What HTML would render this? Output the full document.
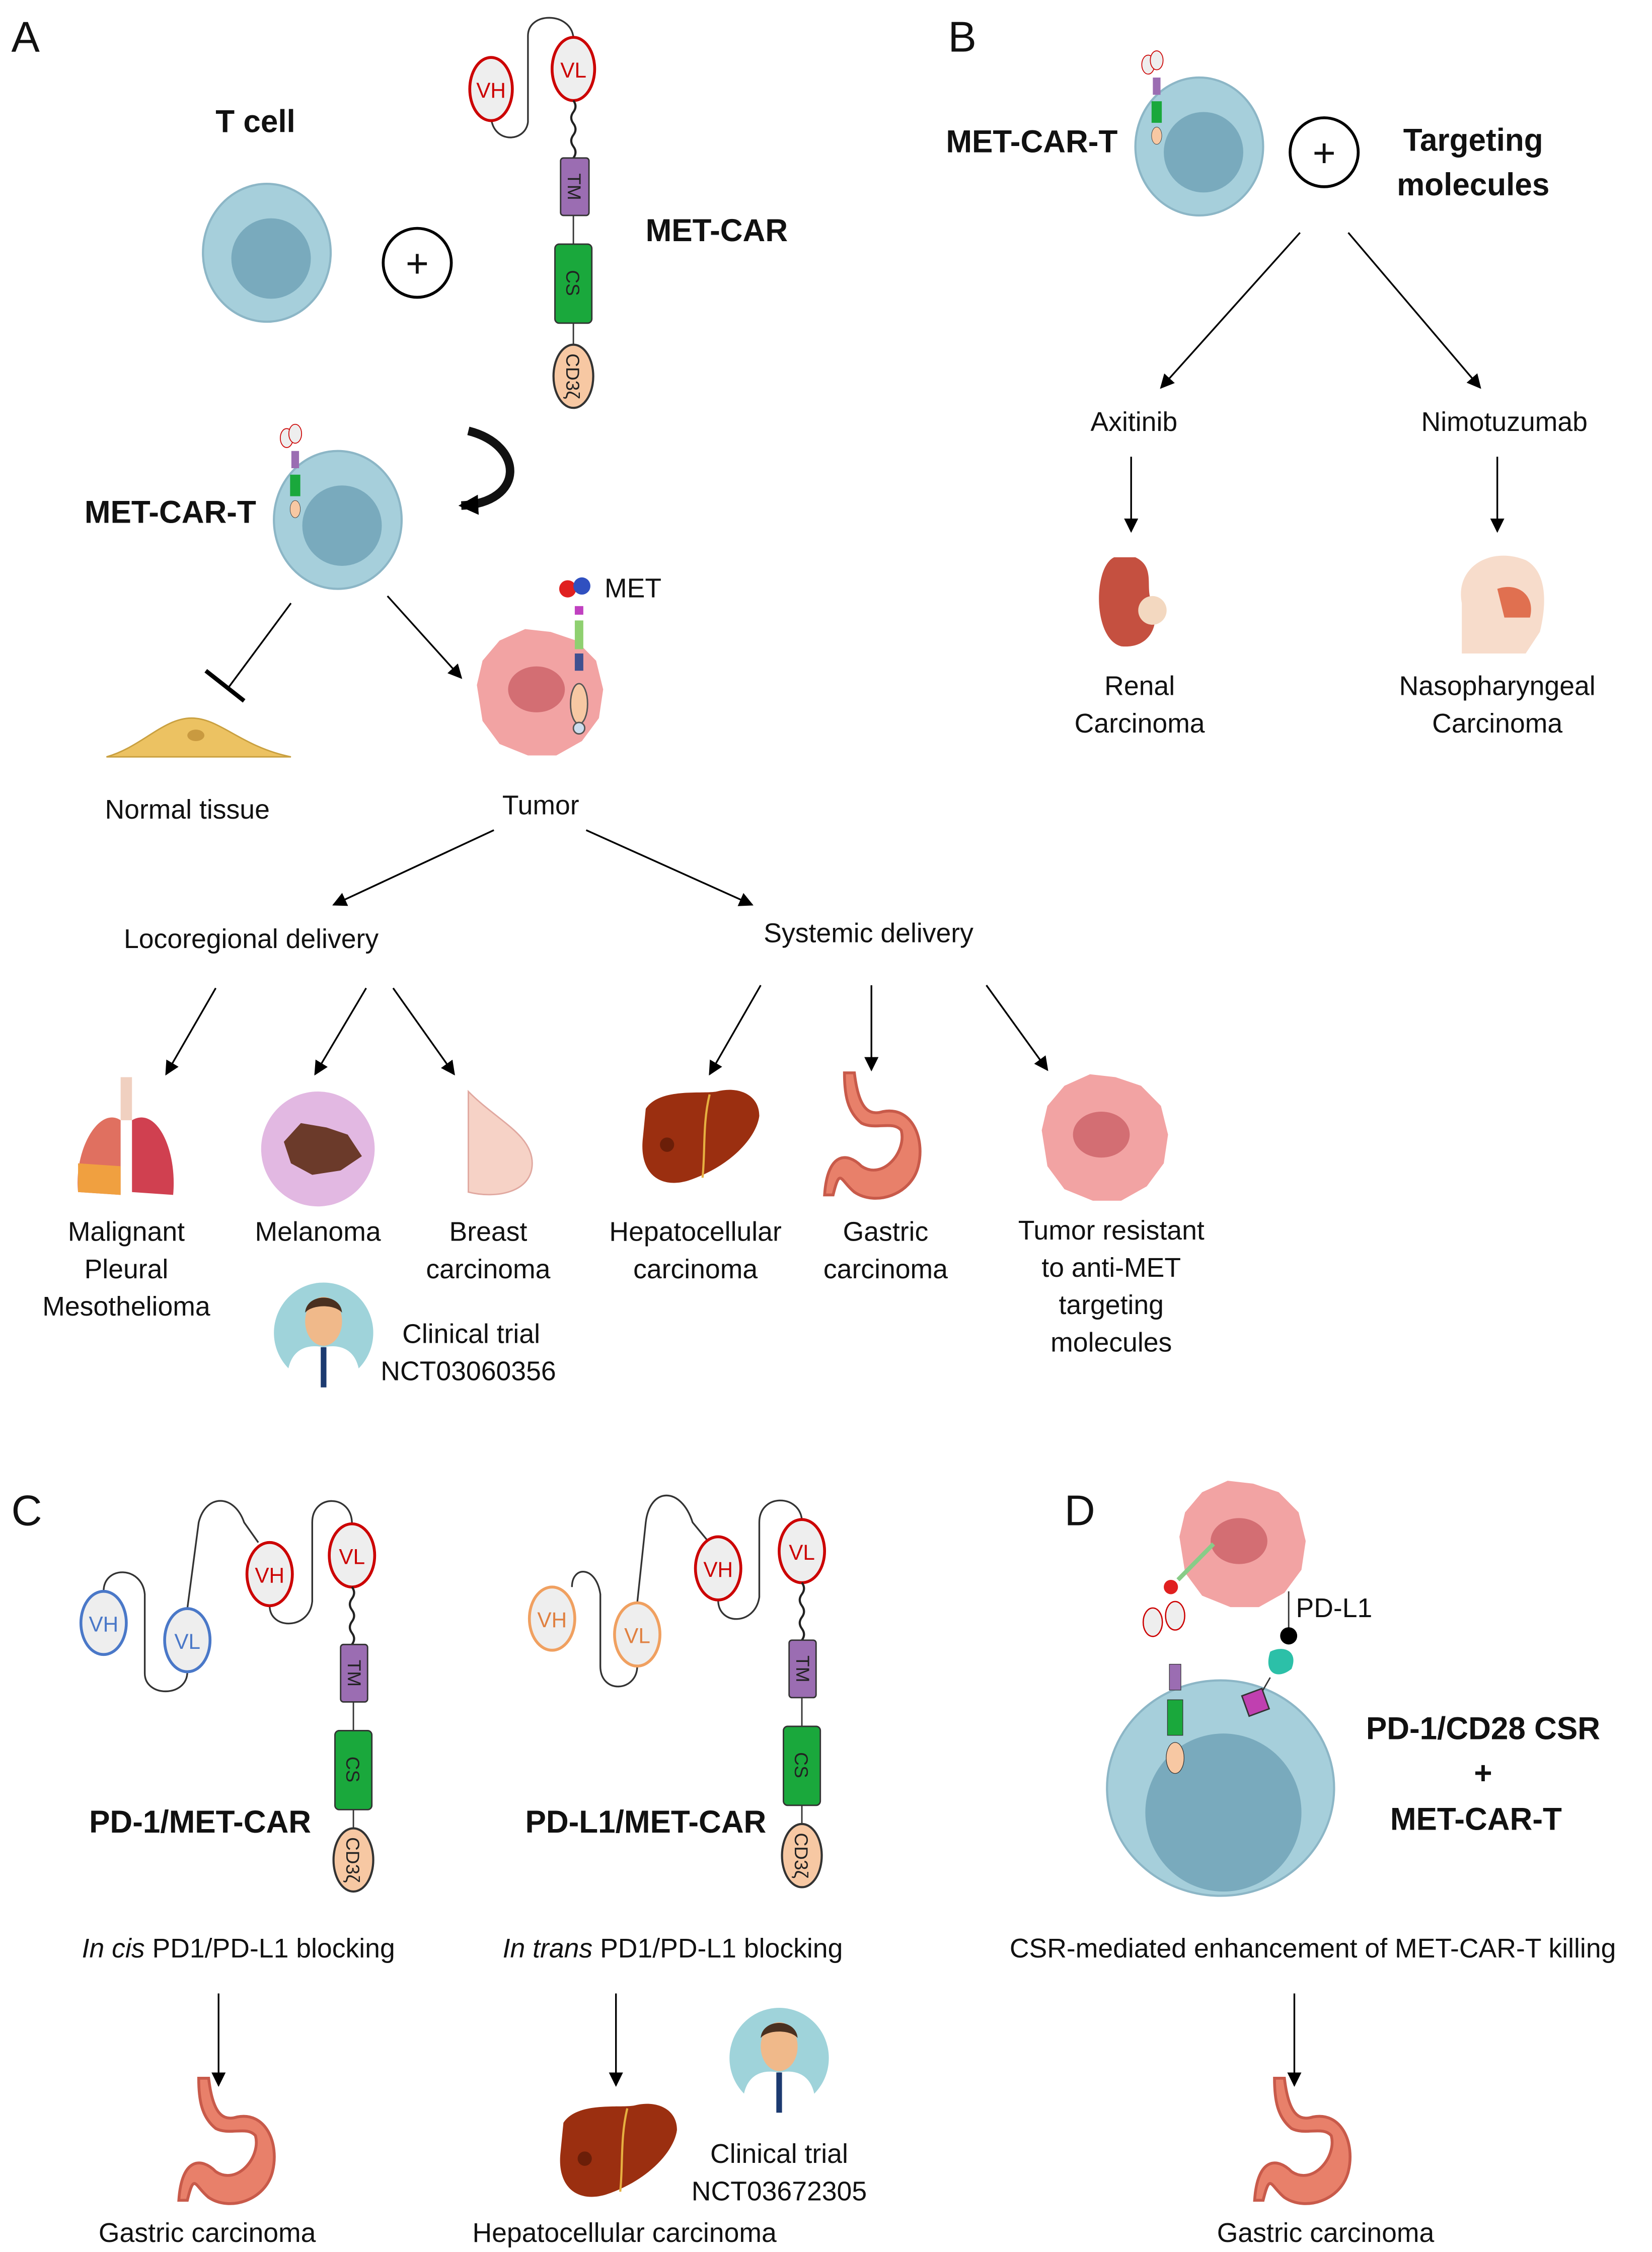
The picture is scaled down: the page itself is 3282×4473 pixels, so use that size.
<!DOCTYPE html>
<html><head><meta charset="utf-8"><style>
html,body{margin:0;padding:0;background:#fff;}
svg{display:block;}
text{font-family:"Liberation Sans",sans-serif;fill:#111;}
.t{font-size:19px;text-anchor:middle;}
.b{font-size:22px;font-weight:bold;text-anchor:middle;}
.L{font-size:30px;}
.s{font-size:13px;text-anchor:middle;fill:#222;}
</style></head><body>
<svg width="3282" height="4473" viewBox="0 0 1164 1568" preserveAspectRatio="none" xmlns="http://www.w3.org/2000/svg">
<defs>
<marker id="ah" markerWidth="10" markerHeight="10" refX="9" refY="5" orient="auto" markerUnits="userSpaceOnUse"><path d="M0,0 L10,5 L0,10 z" fill="#000"/></marker>
<marker id="ah2" markerWidth="14" markerHeight="14" refX="12" refY="7" orient="auto" markerUnits="userSpaceOnUse"><path d="M0,0 L14,7 L0,14 z" fill="#000"/></marker>
<g id="cell"><ellipse cx="0" cy="0" rx="45" ry="48" fill="#a6cfdb" stroke="#8cb6c6" stroke-width="1.5"/><circle cx="3" cy="4" r="28" fill="#79aabd"/></g>
<g id="tumor"><path d="M-44,-5 L-40,-22 L-28,-36 L-10,-44 L8,-42 L26,-36 L40,-22 L45,-2 L42,18 L30,34 L12,44 L-8,44 L-28,36 L-40,20 Z" fill="#f2a3a3"/><ellipse cx="-2" cy="-2" rx="20" ry="16" fill="#d36e73"/></g>
<g id="stomach"><path d="M-15,-45 C-12,-20 -5,-15 5,-18 C25,-22 35,0 30,20 C25,40 0,48 -15,38 C-25,30 -25,20 -30,40 L-36,40 C-34,10 -20,10 -10,20 C5,30 22,10 18,-5 C12,-12 0,-5 -10,-10 C-20,-18 -22,-30 -22,-45 Z" fill="#e8806a" stroke="#c85a4a" stroke-width="2"/></g>
<g id="liver"><path d="M-40,-20 C-30,-35 0,-30 10,-32 C25,-36 40,-30 40,-15 C38,0 20,20 -10,30 C-30,36 -45,25 -42,0 Z" fill="#9b2f10"/><path d="M5,-30 C0,-10 2,10 0,28" stroke="#e6b040" stroke-width="1.5" fill="none"/><circle cx="-25" cy="5" r="5" fill="#6b1e08"/></g>
<g id="doc"><circle cx="0" cy="0" r="35" fill="#9fd3da"/><ellipse cx="0" cy="-8" rx="13" ry="17" fill="#f0b98a"/><path d="M-13,-14 C-12,-28 12,-28 13,-14 C8,-20 -8,-20 -13,-14z" fill="#4a3020"/><path d="M-25,26 C-22,10 -10,8 0,10 C10,8 22,10 25,26 L25,38 L-25,38 Z" fill="#fff"/><rect x="-2" y="10" width="4" height="28" fill="#1c3a70"/></g>
</defs>

<!-- Panel A -->
<text x="8" y="36" class="L">A</text>
<text x="180" y="92" class="b">T cell</text>
<use href="#cell" x="188" y="176"/>
<circle cx="294" cy="183" r="24" fill="#fff" stroke="#000" stroke-width="2"/>
<text x="294" y="193" class="t" style="font-size:28px">+</text>
<path d="M346,80 C346,100 370,100 372,85 L372,25 C372,8 402,8 404,26" fill="none" stroke="#333" stroke-width="1.2"/>
<ellipse cx="346" cy="62" rx="15" ry="22" fill="#eee" stroke="#c00" stroke-width="2"/><text x="346" y="68" class="t" style="fill:#c00;font-size:15px">VH</text>
<ellipse cx="404" cy="48" rx="15" ry="22" fill="#eee" stroke="#c00" stroke-width="2"/><text x="404" y="54" class="t" style="fill:#c00;font-size:15px">VL</text>
<path d="M404,70 q3,4 0,8 q-3,4 0,8 q3,4 0,8 q-3,4 0,8 q3,4 0,8" fill="none" stroke="#222" stroke-width="1.5"/>
<line x1="404" y1="150" x2="404" y2="240" stroke="#333"/>
<rect x="395" y="110" width="20" height="40" rx="2" fill="#9b6db2" stroke="#333"/>
<text class="s" transform="translate(400,130) rotate(90)">TM</text>
<rect x="391" y="170" width="26" height="55" rx="3" fill="#1aa83c" stroke="#333"/>
<text class="s" transform="translate(399,197) rotate(90)">CS</text>
<ellipse cx="404" cy="262" rx="14" ry="22" fill="#f7c8a3" stroke="#333" stroke-width="1.5"/>
<text class="s" transform="translate(399,262) rotate(90)">CD3ζ</text>
<text x="505" y="168" class="b">MET-CAR</text>
<path d="M330,300 C370,310 370,350 325,352" fill="none" stroke="#111" stroke-width="6" marker-end="url(#ah2)"/>
<text x="120" y="364" class="b">MET-CAR-T</text>
<use href="#cell" x="238" y="362"/>
<g transform="translate(208,305) scale(0.3)"><ellipse cx="-20" cy="0" rx="15" ry="22" fill="#eee" stroke="#c00" stroke-width="2"/><ellipse cx="0" cy="-10" rx="15" ry="22" fill="#eee" stroke="#c00" stroke-width="2"/><rect x="-9" y="30" width="18" height="40" fill="#9b6db2"/><rect x="-12" y="85" width="24" height="50" fill="#1aa83c"/><ellipse cx="0" cy="165" rx="12" ry="20" fill="#f7c8a3" stroke="#333"/></g>
<line x1="205" y1="420" x2="160" y2="480" stroke="#000" stroke-width="1.2"/>
<line x1="145" y1="467" x2="172" y2="488" stroke="#000" stroke-width="3"/>
<line x1="273" y1="415" x2="325" y2="472" stroke="#000" stroke-width="1.2" marker-end="url(#ah)"/>
<path d="M75,527 C100,520 115,500 135,500 C155,500 170,520 205,527 Z" fill="#ecc262" stroke="#c9a040"/>
<ellipse cx="138" cy="512" rx="6" ry="4" fill="#c99a40"/>
<text x="132" y="570" class="t">Normal tissue</text>
<use href="#tumor" x="380" y="482"/>
<g><circle cx="400" cy="410" r="6" fill="#e02020"/><circle cx="410" cy="408" r="6" fill="#3050c0"/><rect x="405" y="422" width="6" height="6" fill="#c040c0"/><rect x="405" y="432" width="6" height="20" fill="#8fd070"/><rect x="405" y="455" width="6" height="12" fill="#405090"/><ellipse cx="408" cy="490" rx="6" ry="14" fill="#f7c8a3" stroke="#555"/><circle cx="408" cy="507" r="4" fill="#cde" stroke="#555"/></g>
<text x="446" y="416" class="t">MET</text>
<text x="381" y="567" class="t">Tumor</text>
<line x1="348" y1="578" x2="235" y2="630" stroke="#000" stroke-width="1.2" marker-end="url(#ah)"/>
<line x1="413" y1="578" x2="530" y2="630" stroke="#000" stroke-width="1.2" marker-end="url(#ah)"/>
<text x="177" y="660" class="t">Locoregional delivery</text>
<text x="612" y="656" class="t">Systemic delivery</text>
<g stroke="#000" stroke-width="1.2">
<line x1="152" y1="688" x2="117" y2="748" marker-end="url(#ah)"/>
<line x1="258" y1="688" x2="222" y2="748" marker-end="url(#ah)"/>
<line x1="277" y1="688" x2="320" y2="748" marker-end="url(#ah)"/>
<line x1="536" y1="686" x2="500" y2="748" marker-end="url(#ah)"/>
<line x1="614" y1="686" x2="614" y2="745" marker-end="url(#ah)"/>
<line x1="695" y1="686" x2="738" y2="745" marker-end="url(#ah)"/>
</g>
<rect x="85" y="750" width="8" height="30" fill="#f0d0c0"/>
<path d="M85,780 C70,770 52,800 55,830 L85,832 Z" fill="#e07060"/><path d="M55,810 L85,812 L85,832 L55,830Z" fill="#f0a040"/>
<path d="M93,780 C110,770 125,800 122,832 L93,830 Z" fill="#d04050"/>
<circle cx="224" cy="800" r="40" fill="#e2b8e2"/>
<path d="M200,795 L212,782 L230,785 L245,790 L255,805 L240,815 L220,818 L205,810Z" fill="#6b3a2a"/>
<path d="M330,760 C350,780 375,790 375,810 C375,830 350,835 330,830 Z" fill="#f6d2c6" stroke="#e0a8a0"/>
<use href="#liver" x="495" y="792"/>
<use href="#stomach" x="617" y="792"/>
<use href="#tumor" x="778" y="792"/>
<text x="89" y="864" class="t">Malignant</text><text x="89" y="890" class="t">Pleural</text><text x="89" y="916" class="t">Mesothelioma</text>
<text x="224" y="864" class="t">Melanoma</text>
<text x="344" y="864" class="t">Breast</text><text x="344" y="890" class="t">carcinoma</text>
<text x="490" y="864" class="t">Hepatocellular</text><text x="490" y="890" class="t">carcinoma</text>
<text x="624" y="864" class="t">Gastric</text><text x="624" y="890" class="t">carcinoma</text>
<text x="783" y="863" class="t">Tumor resistant</text><text x="783" y="889" class="t">to anti-MET</text><text x="783" y="915" class="t">targeting</text><text x="783" y="941" class="t">molecules</text>
<use href="#doc" x="228" y="928"/>
<text x="332" y="935" class="t">Clinical trial</text>
<text x="330" y="961" class="t">NCT03060356</text>

<!-- Panel B -->
<text x="668" y="36" class="L">B</text>
<text x="727" y="106" class="b">MET-CAR-T</text>
<use href="#cell" x="845" y="102"/>
<g transform="translate(815,45) scale(0.3)"><ellipse cx="-20" cy="0" rx="15" ry="22" fill="#eee" stroke="#c00" stroke-width="2"/><ellipse cx="0" cy="-10" rx="15" ry="22" fill="#eee" stroke="#c00" stroke-width="2"/><rect x="-9" y="30" width="18" height="40" fill="#9b6db2"/><rect x="-12" y="85" width="24" height="50" fill="#1aa83c"/><ellipse cx="0" cy="165" rx="12" ry="20" fill="#f7c8a3" stroke="#333"/></g>
<circle cx="933" cy="106" r="24" fill="#fff" stroke="#000" stroke-width="2"/>
<text x="933" y="116" class="t" style="font-size:28px">+</text>
<text x="1038" y="105" class="b">Targeting</text>
<text x="1038" y="136" class="b">molecules</text>
<line x1="916" y1="162" x2="818" y2="270" stroke="#000" stroke-width="1.2" marker-end="url(#ah)"/>
<line x1="950" y1="162" x2="1043" y2="270" stroke="#000" stroke-width="1.2" marker-end="url(#ah)"/>
<text x="799" y="300" class="t">Axitinib</text>
<text x="1060" y="300" class="t">Nimotuzumab</text>
<line x1="797" y1="318" x2="797" y2="370" stroke="#000" stroke-width="1.2" marker-end="url(#ah)"/>
<line x1="1055" y1="318" x2="1055" y2="370" stroke="#000" stroke-width="1.2" marker-end="url(#ah)"/>
<path d="M785,388 C770,395 770,445 790,450 C810,452 818,435 812,420 C806,410 815,395 800,388Z" fill="#c55040"/><circle cx="812" cy="425" r="10" fill="#f3d8c0"/>
<path d="M1030,455 L1030,420 C1025,395 1050,380 1075,390 C1090,398 1090,420 1085,440 L1075,455Z" fill="#f7dccb"/><path d="M1055,410 C1070,405 1082,415 1078,430 L1060,430Z" fill="#e07050"/>
<text x="803" y="484" class="t">Renal</text><text x="803" y="510" class="t">Carcinoma</text>
<text x="1055" y="484" class="t">Nasopharyngeal</text><text x="1055" y="510" class="t">Carcinoma</text>

<!-- Panel C -->
<text x="8" y="1062" class="L">C</text>
<g fill="none" stroke="#333" stroke-width="1.2">
<path d="M73,1108 C73,1090 100,1090 102,1110 L102,1165 C102,1182 132,1182 132,1164"/>
<path d="M132,1120 L140,1060 C145,1040 165,1040 172,1060 L182,1074"/>
<path d="M190,1118 C190,1135 218,1135 220,1115 L220,1060 C220,1040 248,1040 248,1061"/>
<path d="M403,1105 C403,1090 420,1090 423,1110 L423,1160 C423,1180 449,1178 449,1160"/>
<path d="M449,1116 L455,1060 C458,1035 480,1035 488,1060 L498,1072"/>
<path d="M506,1114 C506,1132 532,1132 535,1112 L535,1060 C535,1040 563,1040 565,1058"/>
</g>
<ellipse cx="73" cy="1130" rx="16" ry="22" fill="#eee" stroke="#4a78c8" stroke-width="2"/><text x="73" y="1136" class="t" style="fill:#4a78c8;font-size:15px">VH</text>
<ellipse cx="132" cy="1142" rx="16" ry="22" fill="#eee" stroke="#4a78c8" stroke-width="2"/><text x="132" y="1148" class="t" style="fill:#4a78c8;font-size:15px">VL</text>
<ellipse cx="190" cy="1096" rx="16" ry="22" fill="#eee" stroke="#c00" stroke-width="2"/><text x="190" y="1102" class="t" style="fill:#c00;font-size:15px">VH</text>
<ellipse cx="248" cy="1083" rx="16" ry="22" fill="#eee" stroke="#c00" stroke-width="2"/><text x="248" y="1089" class="t" style="fill:#c00;font-size:15px">VL</text>
<path d="M248,1105 q3,4 0,8 q-3,4 0,8 q3,4 0,8 q-3,4 0,8 q3,4 0,8" fill="none" stroke="#222" stroke-width="1.5"/>
<line x1="249" y1="1185" x2="249" y2="1275" stroke="#333"/>
<rect x="240" y="1145" width="19" height="40" rx="2" fill="#9b6db2" stroke="#333"/>
<text class="s" transform="translate(245,1165) rotate(90)">TM</text>
<rect x="236" y="1205" width="26" height="55" rx="3" fill="#1aa83c" stroke="#333"/>
<text class="s" transform="translate(244,1232) rotate(90)">CS</text>
<ellipse cx="249" cy="1295" rx="14" ry="22" fill="#f7c8a3" stroke="#333" stroke-width="1.5"/>
<text class="s" transform="translate(244,1295) rotate(90)">CD3ζ</text>
<text x="141" y="1276" class="b">PD-1/MET-CAR</text>
<text x="168" y="1363" class="t"><tspan font-style="italic">In cis</tspan> PD1/PD-L1 blocking</text>
<line x1="154" y1="1388" x2="154" y2="1452" stroke="#000" stroke-width="1.2" marker-end="url(#ah)"/>
<use href="#stomach" x="162" y="1492"/>
<text x="146" y="1561" class="t">Gastric carcinoma</text>

<ellipse cx="389" cy="1127" rx="16" ry="22" fill="#eee" stroke="#f0a060" stroke-width="2"/><text x="389" y="1133" class="t" style="fill:#e08040;font-size:15px">VH</text>
<ellipse cx="449" cy="1138" rx="16" ry="22" fill="#eee" stroke="#f0a060" stroke-width="2"/><text x="449" y="1144" class="t" style="fill:#e08040;font-size:15px">VL</text>
<ellipse cx="506" cy="1092" rx="16" ry="22" fill="#eee" stroke="#c00" stroke-width="2"/><text x="506" y="1098" class="t" style="fill:#c00;font-size:15px">VH</text>
<ellipse cx="565" cy="1080" rx="16" ry="22" fill="#eee" stroke="#c00" stroke-width="2"/><text x="565" y="1086" class="t" style="fill:#c00;font-size:15px">VL</text>
<path d="M565,1102 q3,4 0,8 q-3,4 0,8 q3,4 0,8 q-3,4 0,8 q3,4 0,8" fill="none" stroke="#222" stroke-width="1.5"/>
<line x1="565" y1="1182" x2="565" y2="1272" stroke="#333"/>
<rect x="556" y="1142" width="19" height="40" rx="2" fill="#9b6db2" stroke="#333"/>
<text class="s" transform="translate(561,1162) rotate(90)">TM</text>
<rect x="552" y="1202" width="26" height="55" rx="3" fill="#1aa83c" stroke="#333"/>
<text class="s" transform="translate(560,1229) rotate(90)">CS</text>
<ellipse cx="565" cy="1292" rx="14" ry="22" fill="#f7c8a3" stroke="#333" stroke-width="1.5"/>
<text class="s" transform="translate(560,1292) rotate(90)">CD3ζ</text>
<text x="455" y="1276" class="b">PD-L1/MET-CAR</text>
<text x="474" y="1363" class="t"><tspan font-style="italic">In trans</tspan> PD1/PD-L1 blocking</text>
<line x1="434" y1="1388" x2="434" y2="1452" stroke="#000" stroke-width="1.2" marker-end="url(#ah)"/>
<use href="#liver" x="437" y="1498"/>
<use href="#doc" x="549" y="1433"/>
<text x="549" y="1506" class="t">Clinical trial</text>
<text x="549" y="1532" class="t">NCT03672305</text>
<text x="440" y="1561" class="t">Hepatocellular carcinoma</text>

<!-- Panel D -->
<text x="750" y="1062" class="L">D</text>
<use href="#tumor" x="875" y="1075"/>
<ellipse cx="860" cy="1245" rx="80" ry="75" fill="#a6cfdb" stroke="#8cb6c6" stroke-width="1.5"/>
<circle cx="862" cy="1262" r="55" fill="#79aabd"/>
<g transform="translate(828,1125) scale(0.45)"><ellipse cx="-35" cy="10" rx="15" ry="22" fill="#eee" stroke="#c00" stroke-width="2"/><ellipse cx="0" cy="0" rx="15" ry="22" fill="#eee" stroke="#c00" stroke-width="2"/><rect x="-9" y="75" width="18" height="40" fill="#9b6db2" stroke="#333"/><rect x="-12" y="130" width="24" height="55" fill="#1aa83c" stroke="#333"/><ellipse cx="0" cy="220" rx="14" ry="24" fill="#f7c8a3" stroke="#333"/></g>
<circle cx="825" cy="1105" r="5" fill="#e02020"/><line x1="830" y1="1100" x2="855" y2="1075" stroke="#8c8" stroke-width="3"/>
<text x="940" y="1126" class="t">PD-L1</text>
<line x1="908" y1="1108" x2="908" y2="1135" stroke="#333"/>
<circle cx="908" cy="1139" r="6" fill="#000"/>
<path d="M895,1150 C905,1145 915,1150 910,1162 C900,1170 890,1165 895,1150Z" fill="#2cc0a8"/>
<line x1="895" y1="1168" x2="888" y2="1180" stroke="#333"/>
<rect x="877" y="1178" width="15" height="15" fill="#c040b0" stroke="#333" transform="rotate(-20 884 1185)"/>
<text x="1045" y="1211" class="b">PD-1/CD28 CSR</text>
<text x="1045" y="1242" class="b">+</text>
<text x="1040" y="1274" class="b">MET-CAR-T</text>
<text x="925" y="1363" class="t">CSR-mediated enhancement of MET-CAR-T killing</text>
<line x1="912" y1="1388" x2="912" y2="1452" stroke="#000" stroke-width="1.2" marker-end="url(#ah)"/>
<use href="#stomach" x="920" y="1492"/>
<text x="934" y="1561" class="t">Gastric carcinoma</text>
</svg>
</body></html>
